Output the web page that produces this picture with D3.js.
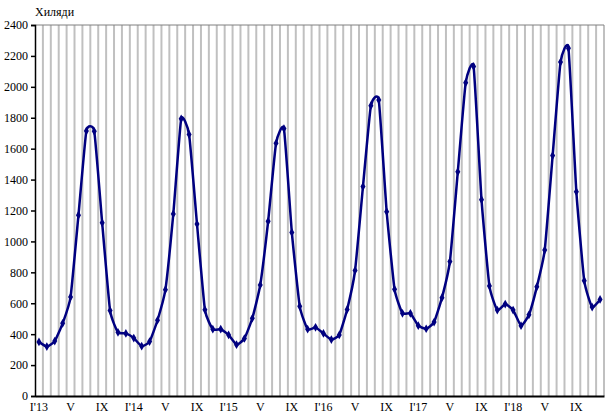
<!DOCTYPE html>
<html>
<head>
<meta charset="utf-8">
<script src="https://cdn.jsdelivr.net/npm/d3@7"></script>
<style>
  body { margin: 0; background: #fff; }
  text { font-family: "Liberation Serif", "Times New Roman", serif; font-size: 12px; fill: #000; }
</style>
</head>
<body>
<svg class="chart" width="614" height="420"></svg>
<script>
// monthly values, Jan 2013 .. Dec 2018 (thousands)
var years = ["13", "14", "15", "16", "17", "18"];
var v2013 = [350, 320, 355, 470, 640, 1170, 1715, 1712, 1120, 553, 412, 405];
var v2014 = [375, 322, 352, 490, 688, 1178, 1793, 1692, 1112, 558, 432, 432];
var v2015 = [395, 332, 372, 503, 718, 1130, 1635, 1730, 1058, 580, 432, 444];
var v2016 = [405, 365, 395, 560, 812, 1355, 1878, 1915, 1192, 690, 535, 535];
var v2017 = [455, 435, 478, 636, 870, 1450, 2027, 2132, 1270, 712, 556, 595];
var v2018 = [556, 455, 525, 706, 944, 1555, 2160, 2250, 1322, 746, 575, 625];
var yTicks = [0, 200, 400, 600, 800, 1000, 1200, 1400, 1600, 1800, 2000, 2200, 2400];
var monthLabels = { 0: "I'", 4: "V", 8: "IX" };
var unitLabel = "Хиляди";

var values = [].concat(v2013, v2014, v2015, v2016, v2017, v2018);
var data = values.map(function(v, i) {
  return { idx: i, value: v };
});

var svg = d3.select(".chart"),
  margin = { top: 25, right: 10, bottom: 24, left: 35 },
  width = +svg.attr("width") - margin.left - margin.right,
  height = +svg.attr("height") - margin.top - margin.bottom,
  g = svg.append("g").attr("transform", "translate(" + margin.left + "," + margin.top + ")");

var x = d3.scaleBand().domain(d3.range(values.length)).range([0, width]);
var y = d3.scaleLinear().domain([0, 2400]).range([height, 0]);

// vertical grid lines between months
g.append("g")
  .selectAll("line")
  .data(d3.range(1, values.length + 1))
  .enter()
  .append("line")
  .attr("x1", function(d) { return d * x.step(); })
  .attr("x2", function(d) { return d * x.step(); })
  .attr("y1", 0)
  .attr("y2", height)
  .attr("stroke", "#c0c0c0")
  .attr("stroke-width", 2);

// top border
g.append("line")
  .attr("x1", 0).attr("x2", width)
  .attr("y1", 0).attr("y2", 0)
  .attr("stroke", "#808080")
  .attr("stroke-width", 1);

// y axis
var yAxis = g.append("g")
  .call(d3.axisLeft(y).tickValues(yTicks).tickSize(4).tickPadding(3).tickFormat(d3.format("d")));
yAxis.select(".domain").attr("stroke", "#000").attr("stroke-width", 1.5);
yAxis.selectAll(".tick line").attr("stroke", "#000").attr("stroke-width", 1.5);
yAxis.selectAll("text").attr("font-family", "Liberation Serif").attr("font-size", 12);

// x axis
var xAxis = g.append("g")
  .attr("transform", "translate(0," + height + ")")
  .call(d3.axisBottom(x).tickSize(0).tickPadding(6).tickFormat(function(d) {
    var m = d % 12;
    if (!(m in monthLabels)) return "";
    return m === 0 ? monthLabels[m] + years[Math.floor(d / 12)] : monthLabels[m];
  }));
xAxis.select(".domain").attr("stroke", "#000").attr("stroke-width", 2);
xAxis.selectAll("text").attr("font-family", "Liberation Serif").attr("font-size", 12);

svg.append("text")
  .attr("x", 35)
  .attr("y", 16)
  .text(unitLabel);

var line = d3.line()
  .curve(d3.curveCardinal.tension(0.55))
  .x(function(d) { return x(d.idx) + x.bandwidth() / 2; })
  .y(function(d) { return y(d.value); });

g.append("path")
  .datum(data)
  .attr("fill", "none")
  .attr("stroke", "#000080")
  .attr("stroke-width", 2.5)
  .attr("stroke-linejoin", "round")
  .attr("d", line);

g.append("g")
  .selectAll("path")
  .data(data)
  .enter()
  .append("path")
  .attr("transform", function(d) {
    return "translate(" + (x(d.idx) + x.bandwidth() / 2) + "," + y(d.value) + ")";
  })
  .attr("d", d3.symbol().type(d3.symbolDiamond).size(22))
  .attr("fill", "#000080");
</script>
</body>
</html>
